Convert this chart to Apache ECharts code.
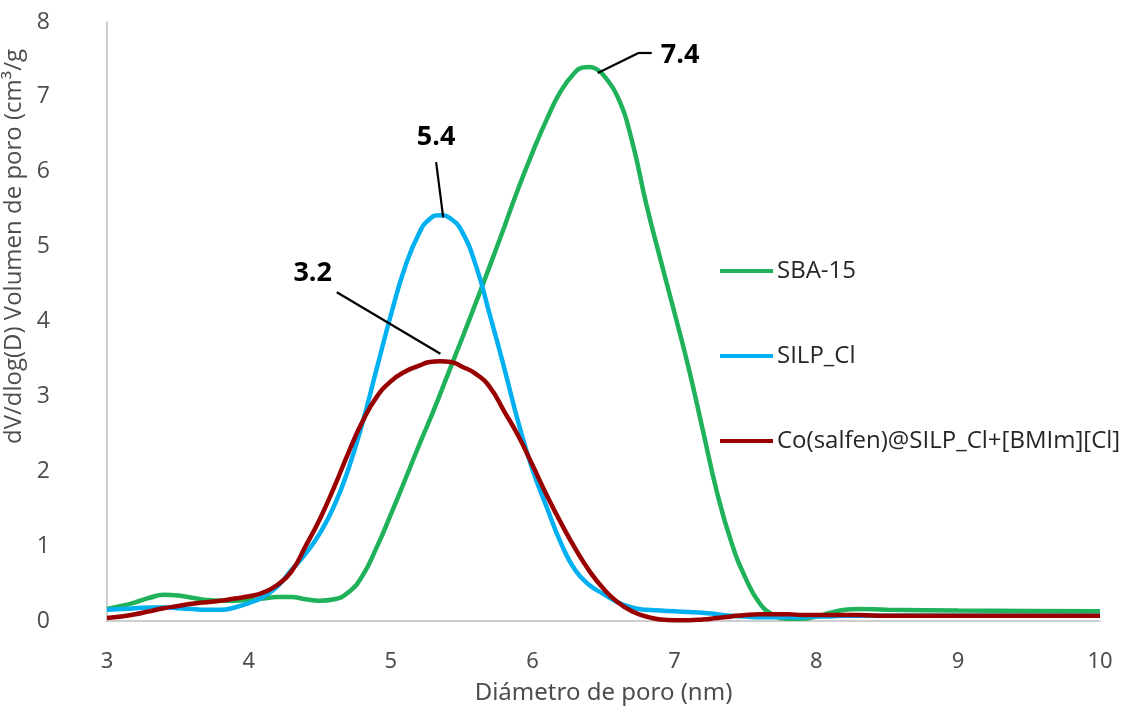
<!DOCTYPE html>
<html>
<head>
<meta charset="utf-8">
<script src="https://cdn.jsdelivr.net/npm/echarts@6/dist/echarts.min.js"></script>
<style>
html, body { margin: 0; padding: 0; background: #fff; }
#the-echart { width: 1144px; height: 711px; }
</style>
</head>
<body>
<div id="the-echart"></div>
<script>
// pore diameter (nm) for SBA-15
const diamSba = [3.0, 3.1, 3.2, 3.3, 3.4, 3.5, 3.6, 3.7, 3.8, 3.9,
  4.0, 4.1, 4.2, 4.3, 4.4, 4.5, 4.6, 4.7, 4.8, 4.9,
  5.0, 5.1, 5.2, 5.3, 5.4, 5.5, 5.6, 5.7, 5.8, 5.9,
  6.0, 6.1, 6.2, 6.3, 6.35, 6.4, 6.45, 6.5, 6.6, 6.7, 6.8, 6.9,
  7.0, 7.1, 7.2, 7.3, 7.4, 7.5, 7.6, 7.7, 7.8, 7.9,
  8.0, 8.1, 8.2, 8.3, 8.5, 9.0, 9.5, 10.0]

// pore diameter (nm) for SILP_Cl and Co(salfen)
const diamSilp = [3.0, 3.1, 3.2, 3.3, 3.4, 3.5, 3.6, 3.7, 3.8, 3.9,
  4.0, 4.1, 4.2, 4.3, 4.4, 4.5, 4.6, 4.7, 4.8, 4.9,
  5.0, 5.1, 5.2, 5.275, 5.35, 5.425, 5.5, 5.6, 5.7, 5.8, 5.9,
  6.0, 6.1, 6.2, 6.3, 6.4, 6.5, 6.6, 6.7, 6.8, 6.9,
  7.0, 7.1, 7.2, 7.3, 7.4, 7.5, 7.6, 7.7, 7.8, 7.9,
  8.0, 8.1, 8.2, 8.3, 8.5, 9.0, 9.5, 10.0]

// dV/dlog(D)
const sba15 = [0.16, 0.20, 0.25, 0.31, 0.35, 0.34, 0.31, 0.28, 0.27, 0.27,
  0.28, 0.30, 0.32, 0.32, 0.29, 0.27, 0.29, 0.38, 0.60, 0.98,
  1.42, 1.88, 2.35, 2.80, 3.28, 3.76, 4.25, 4.75, 5.26, 5.78,
  6.26, 6.70, 7.08, 7.33, 7.39, 7.40, 7.37, 7.29, 7.00, 6.42, 5.58, 4.84,
  4.12, 3.38, 2.55, 1.72, 1.06, 0.58, 0.24, 0.08, 0.03, 0.03,
  0.06, 0.11, 0.15, 0.16, 0.15, 0.14, 0.135, 0.13]

const silpCl = [0.15, 0.16, 0.17, 0.18, 0.18, 0.17, 0.16, 0.15, 0.15, 0.18,
  0.24, 0.32, 0.46, 0.68, 0.90, 1.17, 1.53, 2.02, 2.64, 3.36,
  4.08, 4.72, 5.18, 5.37, 5.42, 5.37, 5.21, 4.75, 4.08, 3.38, 2.65,
  2.02, 1.52, 1.04, 0.68, 0.48, 0.36, 0.25, 0.18, 0.15, 0.14,
  0.13, 0.12, 0.11, 0.09, 0.07, 0.06, 0.05, 0.05, 0.05, 0.05,
  0.06, 0.06, 0.07, 0.07, 0.07, 0.07, 0.07, 0.07]

const coSalfen = [0.04, 0.06, 0.09, 0.13, 0.17, 0.20, 0.23, 0.25, 0.27, 0.30,
  0.33, 0.38, 0.48, 0.66, 1.00, 1.36, 1.78, 2.24, 2.66, 2.99,
  3.20, 3.33, 3.41, 3.46, 3.47, 3.46, 3.40, 3.30, 3.12, 2.80, 2.47,
  2.08, 1.68, 1.31, 0.97, 0.67, 0.43, 0.25, 0.13, 0.06, 0.02,
  0.01, 0.01, 0.02, 0.04, 0.06, 0.08, 0.09, 0.09, 0.09, 0.08,
  0.08, 0.08, 0.08, 0.08, 0.07, 0.07, 0.07, 0.07]

const seriesNames = ['SBA-15', 'SILP_Cl', 'Co(salfen)@SILP_Cl+[BMIm][Cl]']
const seriesColors = ['#1fb25a', '#00b0f0', '#990000']

// callouts: text, label spot, leader line points (data units)
const calloutText = ['7.4', '5.4', '3.2']
const calloutAt = [[7.04, 7.56], [5.32, 6.46], [4.45, 4.64]]
const calloutLines = [
  [[6.46, 7.32], [6.75, 7.59], [6.84, 7.59]],
  [[5.32, 6.13], [5.37, 5.39]],
  [[4.62, 4.39], [5.35, 3.57]]
]

function pairs(xs, ys) {
  return xs.map((x, i) => [x, ys[i]])
}

function callout(i) {
  let segs = []
  let pts = calloutLines[i]
  for (let k = 0; k < pts.length - 1; k++) {
    segs.push([{coord: pts[k]}, {coord: pts[k + 1]}])
  }
  return {
    markLine: {
      silent: true,
      symbol: ['none', 'none'],
      lineStyle: {color: '#000', width: 2.2, type: 'solid'},
      label: {show: false},
      data: segs
    },
    markPoint: {
      silent: true,
      symbol: 'circle',
      symbolSize: 0,
      label: {
        show: true,
        position: 'inside',
        formatter: calloutText[i],
        color: '#000',
        fontWeight: 'bold',
        fontSize: 27,
        fontFamily: 'Open Sans'
      },
      data: [{coord: calloutAt[i]}]
    }
  }
}

const allData = [pairs(diamSba, sba15), pairs(diamSilp, silpCl), pairs(diamSilp, coSalfen)]

const chart = echarts.init(document.getElementById('the-echart'))
chart.setOption({
  animation: false,
  backgroundColor: '#fff',
  grid: {left: 107, right: 44, top: 22, bottom: 90, outerBoundsMode: 'none'},
  legend: {
    orient: 'vertical',
    left: 715,
    top: 252,
    itemGap: 57,
    itemWidth: 53,
    itemHeight: 4,
    icon: 'rect',
    data: seriesNames,
    textStyle: {fontFamily: 'Open Sans', fontSize: 24, color: '#262626', lineHeight: 28, padding: [0, 0, 0, -1]}
  },
  xAxis: {
    type: 'value',
    min: 3,
    max: 10,
    interval: 1,
    name: 'Diámetro de poro (nm)',
    nameLocation: 'middle',
    nameGap: 60,
    nameTextStyle: {fontFamily: 'Noto Sans', fontSize: 24, color: '#4d4d4d'},
    axisLine: {lineStyle: {color: '#bfbfbf', width: 1.5}},
    axisTick: {show: false},
    splitLine: {show: false},
    axisLabel: {margin: 30, fontFamily: 'Noto Sans', fontSize: 22, color: '#4d4d4d'}
  },
  yAxis: {
    type: 'value',
    min: 0,
    max: 8,
    interval: 1,
    name: 'dV/dlog(D) Volumen de poro (cm³/g',
    nameLocation: 'middle',
    nameGap: 70,
    nameRotate: 90,
    nameTextStyle: {fontFamily: 'Open Sans', fontSize: 24, color: '#4d4d4d', padding: [0, 0, 0, 150]},
    axisLine: {show: true, lineStyle: {color: '#bfbfbf', width: 1.5}},
    axisTick: {show: false},
    splitLine: {show: false},
    axisLabel: {margin: 57, fontFamily: 'Open Sans', fontSize: 23, color: '#4d4d4d'}
  },
  series: allData.map((d, i) => Object.assign({
    name: seriesNames[i],
    type: 'line',
    data: d,
    smooth: 0.5,
    symbol: 'none',
    lineStyle: {color: seriesColors[i], width: 4.5},
    itemStyle: {color: seriesColors[i]},
    z: 2 + i
  }, callout(i)))
})
</script>
</body>
</html>
